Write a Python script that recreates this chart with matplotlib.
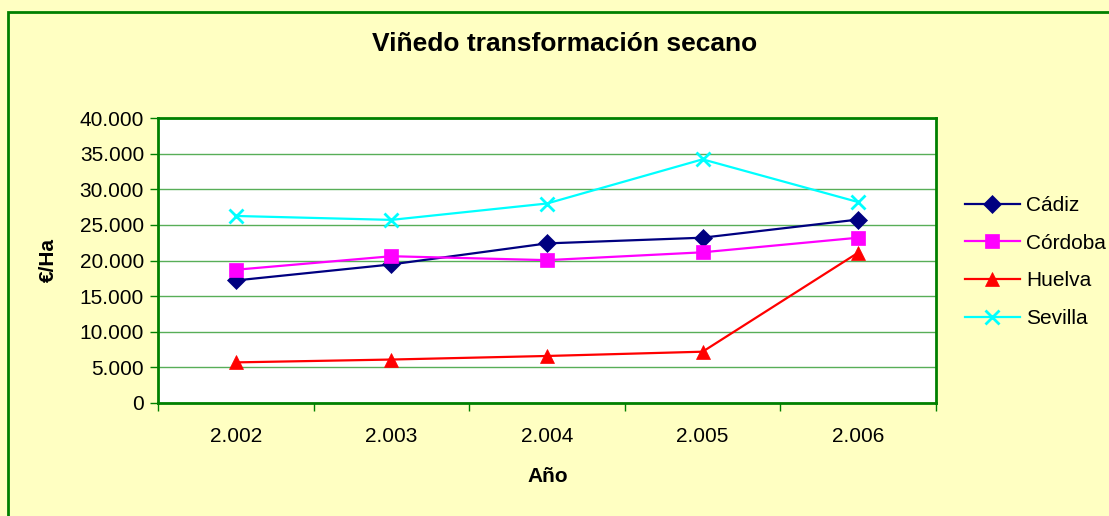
import matplotlib.pyplot as plt
from matplotlib.ticker import FuncFormatter, FixedLocator
from matplotlib.patches import Rectangle

plt.rcParams['font.family'] = ['Liberation Sans', 'DejaVu Sans']

YEARS = ["2.002", "2.003", "2.004", "2.005", "2.006"]
CADIZ = [17200, 19450, 22400, 23200, 25750]
CORDOBA = [18700, 20600, 20050, 21150, 23200]
HUELVA = [5700, 6100, 6600, 7200, 21100]
SEVILLA = [26250, 25700, 28000, 34200, 28200]

SERIES = [
    ("Cádiz", CADIZ, "#000080", "D", 9),
    ("Córdoba", CORDOBA, "#FF00FF", "s", 10),
    ("Huelva", HUELVA, "#FF0000", "^", 10),
    ("Sevilla", SEVILLA, "#00FFFF", "x", 10),
]

BG = "#FFFFC2"
GREEN = "#008000"

fig = plt.figure(figsize=(11.09, 5.16), dpi=100, facecolor=BG)
ax = fig.add_axes([158 / 1109, 1 - 403 / 516, (936 - 158) / 1109, (403 - 118) / 516])
ax.set_facecolor("white")

# chart area border (runs past right/bottom edges)
top = 1 - 12 / 516
fig.patches.append(Rectangle((8 / 1109, -0.2), 1.2, top + 0.2,
                             transform=fig.transFigure, fill=False,
                             edgecolor=GREEN, linewidth=2, zorder=0))

x = list(range(1, len(YEARS) + 1))
for name, vals, color, marker, ms in SERIES:
    ax.plot(x, vals, color=color, linewidth=1.6, marker=marker, markersize=ms,
            markeredgewidth=2 if marker == "x" else 0.5, markeredgecolor=color,
            label=name, clip_on=False, zorder=3)

ax.set_xlim(0.5, len(YEARS) + 0.5)
ax.set_ylim(0, 40000)
ax.yaxis.set_major_locator(FixedLocator(range(0, 40001, 5000)))
ax.yaxis.set_major_formatter(FuncFormatter(lambda v, p: f"{int(v):,}".replace(",", ".")))
ax.set_xticks(x)
ax.set_xticklabels(YEARS)
ax.set_xticks([i + 0.5 for i in range(0, len(YEARS) + 1)], minor=True)
ax.tick_params(axis="x", which="major", length=0, pad=17, labelsize=15)
ax.tick_params(axis="x", which="minor", length=6, width=1, color=GREEN, direction="out")
ax.tick_params(axis="y", length=6, width=1, color=GREEN, direction="out", labelsize=15, pad=4)

ax.grid(axis="y", color="#2E9A2E", linewidth=1.0, alpha=0.8)
ax.set_axisbelow(True)
for s in ax.spines.values():
    s.set_color(GREEN)
    s.set_linewidth(2)

fig.text(565 / 1109, 1 - 44 / 516, "Viñedo transformación secano", ha="center", va="center",
         fontsize=19, fontweight="bold")
fig.text(548 / 1109, 1 - 477 / 516, "Año", ha="center", va="center", fontsize=15, fontweight="bold")
fig.text(48 / 1109, 1 - 260 / 516, "€/Ha", ha="center", va="center", fontsize=15,
         fontweight="bold", rotation=90)

fig.legend(loc="center left", bbox_to_anchor=(957 / 1109, 1 - 262 / 516), frameon=False,
           fontsize=15, handlelength=2.6, handletextpad=0.3, labelspacing=0.9,
           borderaxespad=0)

fig.savefig("out.png", dpi=100, facecolor=BG)
